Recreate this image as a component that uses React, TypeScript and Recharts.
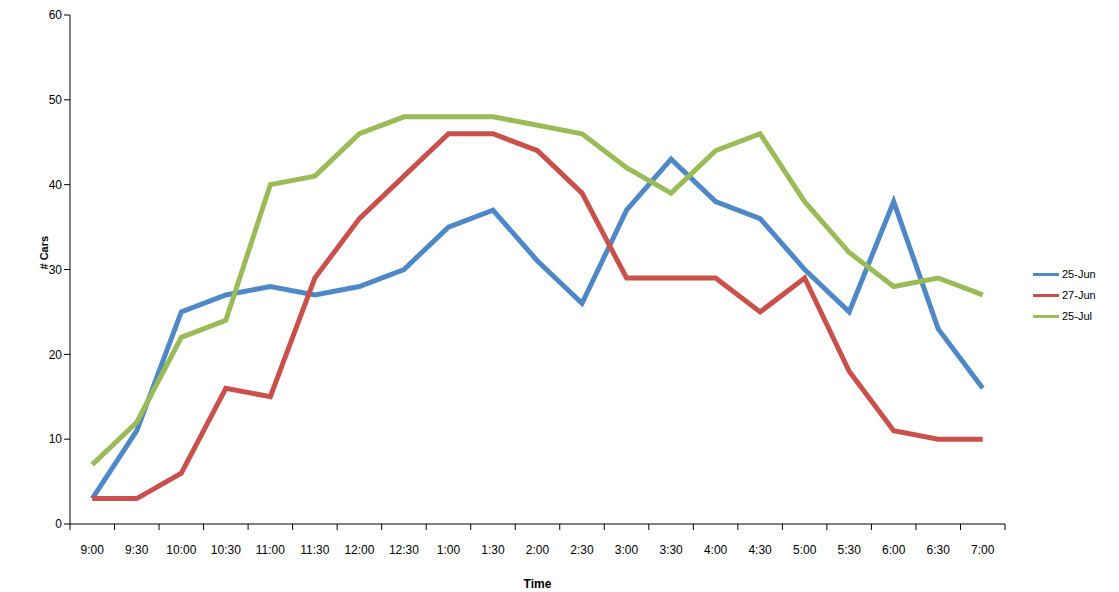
import { LineChart, Line, XAxis, YAxis } from "recharts";

const times = ["9:00", "9:30", "10:00", "10:30", "11:00", "11:30", "12:00", "12:30", "1:00", "1:30", "2:00", "2:30", "3:00", "3:30", "4:00", "4:30", "5:00", "5:30", "6:00", "6:30", "7:00"];
const jun25 = [3, 11, 25, 27, 28, 27, 28, 30, 35, 37, 31, 26, 37, 43, 38, 36, 30, 25, 38, 23, 16];
const jun27 = [3, 3, 6, 16, 15, 29, 36, 41, 46, 46, 44, 39, 29, 29, 29, 25, 29, 18, 11, 10, 10];
const jul25 = [7, 12, 22, 24, 40, 41, 46, 48, 48, 48, 47, 46, 42, 39, 44, 46, 38, 32, 28, 29, 27];
const yTicks = [0, 10, 20, 30, 40, 50, 60];

const series = [
  { key: "25-Jun", color: "#4f88c6" },
  { key: "27-Jun", color: "#c9504b" },
  { key: "25-Jul", color: "#9bbb58" },
];

const data = times.map((t, i) => ({ time: t, "25-Jun": jun25[i], "27-Jun": jun27[i], "25-Jul": jul25[i] }));

const font = { fontFamily: "Liberation Sans, Arial, sans-serif", fontSize: 12, fill: "#000" };
const half = 935 / 21 / 2;

const TimeTick = (props: any) => {
  const { x, y, payload, index } = props;
  return (
    <g>
      {index === 0 && <line x1={x - half} x2={x - half} y1={y} y2={y + 6} stroke="#000" />}
      <line x1={x + half} x2={x + half} y1={y} y2={y + 6} stroke="#000" />
      <text x={x} y={y + 30} textAnchor="middle" style={font}>{payload.value}</text>
    </g>
  );
};

export default function App() {
  return (
    <div style={{ position: "relative", margin: "-8px 0 0 -8px", width: 1119, height: 592, background: "#fff", fontFamily: "Liberation Sans, Arial, sans-serif" }}>
      <LineChart width={1119} height={592} data={data} margin={{ top: 15, right: 114, left: 30, bottom: 18 }}>
        <XAxis dataKey="time" height={50} stroke="#000" tickLine={false} tickSize={0} tickMargin={0} tick={<TimeTick />} interval={0} padding={{ left: half, right: half }}
          label={{ value: "Time", position: "insideBottom", offset: -14, style: { ...font, fontWeight: "bold" } }} />
        <YAxis domain={[0, 60]} ticks={yTicks} width={40} stroke="#000" tick={font} tickSize={6}
          label={{ value: "# Cars", angle: -90, position: "insideLeft", offset: 14, style: { ...font, fontSize: 11, fontWeight: "bold" } }} />
        {series.map((s) => (
          <Line key={s.key} dataKey={s.key} stroke={s.color} strokeWidth={5} dot={false} isAnimationActive={false} />
        ))}
      </LineChart>
      <div style={{ position: "absolute", left: 1033, top: 264, fontSize: 11, lineHeight: "21px", color: "#000" }}>
        {series.map((s) => (
          <div key={s.key} style={{ display: "flex", alignItems: "center" }}>
            <span style={{ display: "inline-block", width: 26, height: 3, background: s.color, marginRight: 3 }} />
            {s.key}
          </div>
        ))}
      </div>
    </div>
  );
}
